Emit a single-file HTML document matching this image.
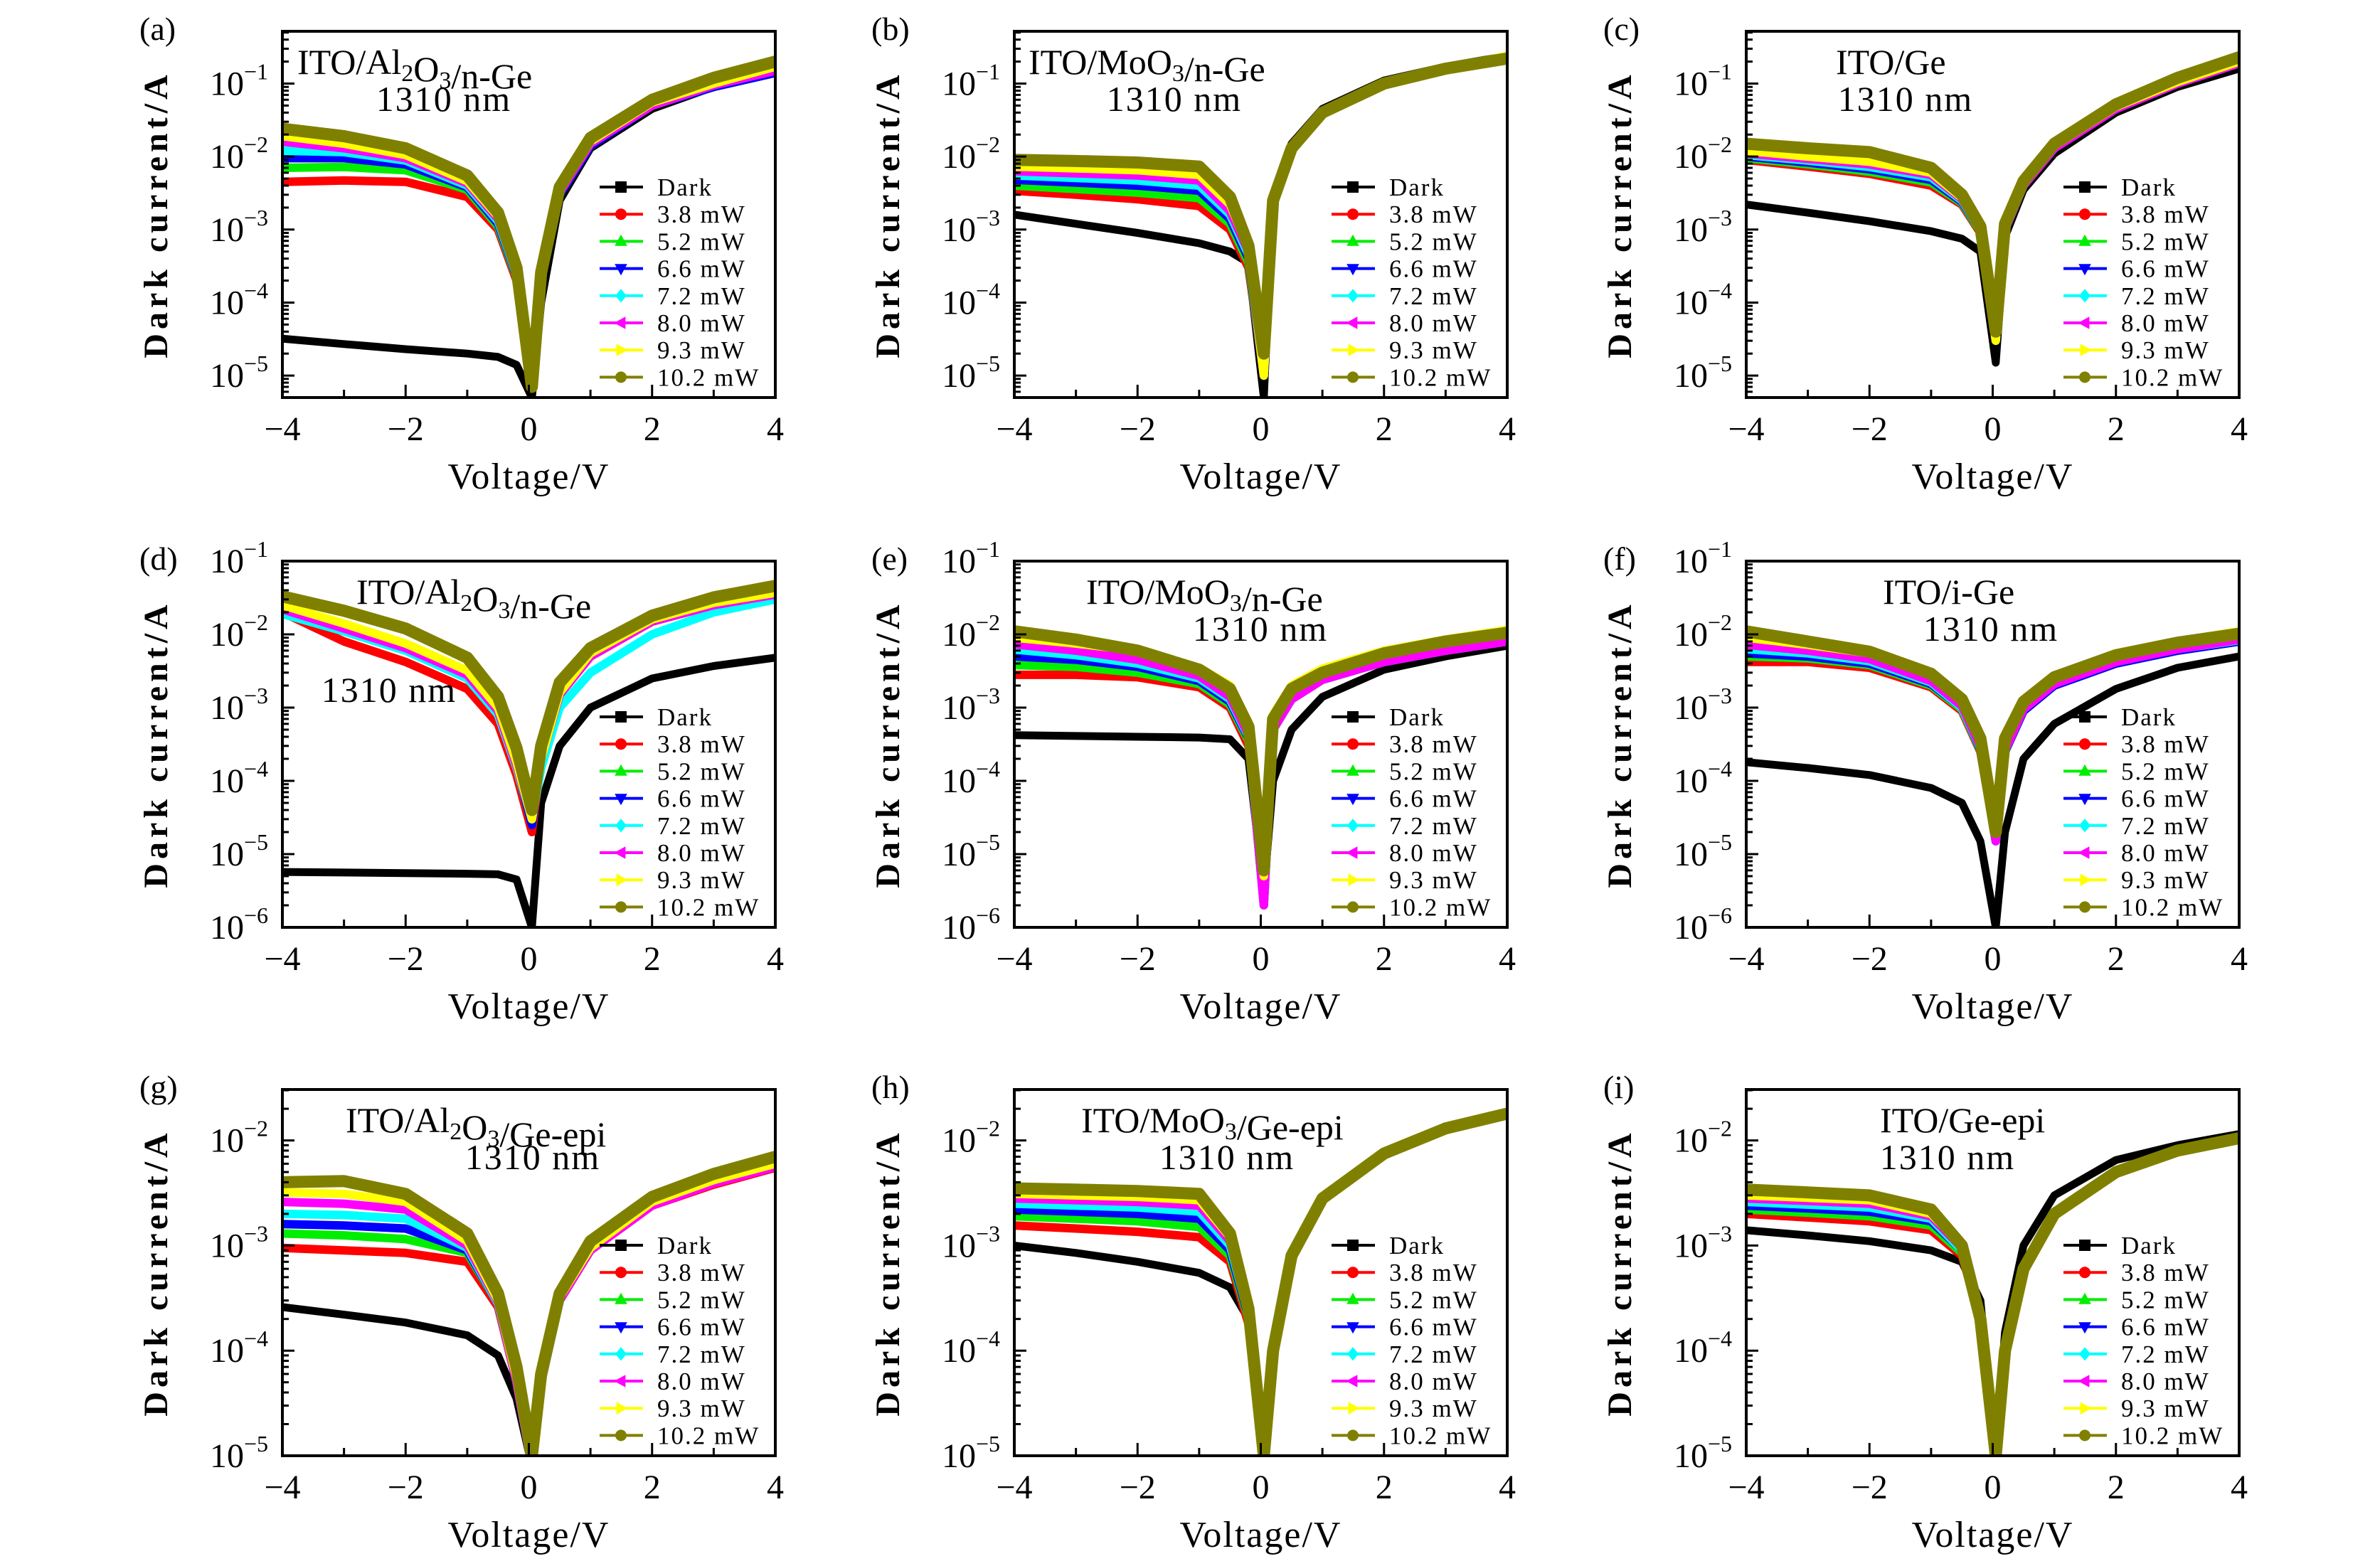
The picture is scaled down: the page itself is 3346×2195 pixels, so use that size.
<!DOCTYPE html>
<html><head><meta charset="utf-8"><style>
html,body{margin:0;padding:0;background:#fff;}
svg{display:block;font-family:"Liberation Serif",serif;}
</style></head><body>
<svg id="fig" width="3346" height="2195" viewBox="0 0 3346 2195" xmlns="http://www.w3.org/2000/svg"></svg>
<script>
const V = [-4,-3,-2,-1,-0.5,-0.2,0.05,0.2,0.5,1,2,3,4];
const seriesNames = ["Dark","3.8 mW","5.2 mW","6.6 mW","7.2 mW","8.0 mW","9.3 mW","10.2 mW"];
const panelLetters = ["a","b","c","d","e","f","g","h","i"];
const yMinVals = [5e-6,5e-6,5e-6,1e-6,1e-6,1e-6,1e-5,1e-5,1e-5];
const yMaxVals = [0.52,0.52,0.52,0.1,0.1,0.1,0.0305,0.0305,0.0305];
const xTickVals = [-4,-3,-2,-1,0,1,2,3,4];
const xTickLabels = ["−4","","−2","","0","","2","","4"];

const a0=[3.2e-5,2.7e-5,2.3e-5,2.0e-5,1.8e-5,1.4e-5,5e-6,1e-4,2.5e-3,1.3e-2,4.5e-2,9e-2,1.5e-1];
const a1=[4.5e-3,4.7e-3,4.5e-3,2.8e-3,1e-3,2e-4,7e-6,2e-4,3e-3,1.4e-2,5e-2,9e-2,1.4e-1];
const a2=[7e-3,7.2e-3,6.5e-3,3.5e-3,1.1e-3,2.2e-4,7e-6,2e-4,3e-3,1.4e-2,5e-2,9e-2,1.4e-1];
const a3=[9.5e-3,9.5e-3,7.8e-3,3.8e-3,1.2e-3,2.3e-4,7e-6,2e-4,3e-3,1.4e-2,5e-2,9e-2,1.4e-1];
const a4=[1.2e-2,1.15e-2,8.8e-3,4e-3,1.3e-3,2.4e-4,7e-6,2.2e-4,3.2e-3,1.5e-2,5e-2,9.5e-2,1.5e-1];
const a5=[1.6e-2,1.3e-2,9.5e-3,4.3e-3,1.4e-3,2.5e-4,7e-6,2.2e-4,3.2e-3,1.5e-2,5e-2,9.5e-2,1.5e-1];
const a6=[1.9e-2,1.5e-2,1.05e-2,4.6e-3,1.5e-3,2.7e-4,7e-6,2.4e-4,3.5e-3,1.6e-2,5.5e-2,1e-1,1.7e-1];
const a7=[2.4e-2,1.9e-2,1.3e-2,5.5e-3,1.7e-3,3e-4,7e-6,2.6e-4,3.8e-3,1.8e-2,6e-2,1.2e-1,2e-1];

const b0=[1.6e-3,1.2e-3,9e-4,6.5e-4,5e-4,3.5e-4,5e-6,3e-3,1.5e-2,4.5e-2,1.1e-1,1.7e-1,2.4e-1];
const b1=[3.4e-3,3e-3,2.6e-3,2.1e-3,1e-3,3e-4,1e-5,2.5e-3,1.3e-2,4e-2,1e-1,1.6e-1,2.3e-1];
const b2=[4e-3,3.6e-3,3.2e-3,2.7e-3,1.2e-3,3.5e-4,1e-5,2.5e-3,1.3e-2,4e-2,1e-1,1.6e-1,2.3e-1];
const b3=[4.8e-3,4.4e-3,4e-3,3.4e-3,1.4e-3,4e-4,1e-5,2.5e-3,1.3e-2,4e-2,1e-1,1.6e-1,2.3e-1];
const b4=[5.5e-3,5.1e-3,4.7e-3,4e-3,1.6e-3,4.5e-4,1e-5,2.5e-3,1.3e-2,4e-2,1e-1,1.6e-1,2.3e-1];
const b5=[6.3e-3,5.9e-3,5.5e-3,4.7e-3,1.8e-3,5e-4,1e-5,2.5e-3,1.3e-2,4e-2,1e-1,1.6e-1,2.3e-1];
const b6=[7.3e-3,6.9e-3,6.5e-3,5.6e-3,2.2e-3,5.5e-4,1e-5,2.5e-3,1.3e-2,4e-2,1e-1,1.6e-1,2.4e-1];
const b7=[9e-3,8.7e-3,8.3e-3,7.3e-3,2.8e-3,6e-4,2e-5,2.5e-3,1.3e-2,4e-2,1e-1,1.6e-1,2.2e-1];

const c0=[2.2e-3,1.7e-3,1.3e-3,9.5e-4,7.5e-4,5e-4,1.5e-5,8e-4,3.5e-3,1.1e-2,4e-2,9e-2,1.6e-1];
const c1=[9e-3,7.3e-3,5.8e-3,4e-3,2.2e-3,9e-4,3e-5,1e-3,4e-3,1.3e-2,4.5e-2,1e-1,1.9e-1];
const c2=[9.5e-3,7.8e-3,6.2e-3,4.4e-3,2.3e-3,9.5e-4,3e-5,1e-3,4e-3,1.3e-2,4.5e-2,1e-1,1.9e-1];
const c3=[1e-2,8.3e-3,6.7e-3,4.8e-3,2.4e-3,1e-3,3e-5,1e-3,4e-3,1.3e-2,4.5e-2,1e-1,1.9e-1];
const c4=[1.05e-2,8.8e-3,7.2e-3,5.2e-3,2.5e-3,1e-3,3e-5,1e-3,4e-3,1.3e-2,4.5e-2,1e-1,1.9e-1];
const c5=[1.1e-2,9.3e-3,7.8e-3,5.6e-3,2.6e-3,1e-3,3e-5,1e-3,4e-3,1.3e-2,4.5e-2,1e-1,1.9e-1];
const c6=[1.2e-2,1e-2,8.5e-3,6e-3,2.7e-3,1e-3,3e-5,1.1e-3,4.3e-3,1.4e-2,4.8e-2,1.05e-1,2e-1];
const c7=[1.5e-2,1.3e-2,1.15e-2,7e-3,3e-3,1.1e-3,4e-5,1.2e-3,4.6e-3,1.5e-2,5.2e-2,1.2e-1,2.3e-1];

const d0=[5.7e-6,5.6e-6,5.5e-6,5.4e-6,5.3e-6,4.5e-6,1e-6,5e-5,3e-4,1e-3,2.5e-3,3.7e-3,4.8e-3];
const d1=[2e-2,8e-3,4.2e-3,1.8e-3,6e-4,1.2e-4,2e-5,2e-4,1.5e-3,5e-3,1.5e-2,2.5e-2,3.5e-2];
const d2=[2.2e-2,1.1e-2,6e-3,2.6e-3,8e-4,1.5e-4,2.5e-5,2e-4,1.5e-3,5e-3,1.5e-2,2.5e-2,3.5e-2];
const d3=[2.2e-2,1.2e-2,6.5e-3,2.8e-3,9e-4,1.6e-4,2.5e-5,2e-4,1.5e-3,5e-3,1.5e-2,2.5e-2,3.5e-2];
const d4=[1.9e-2,1.1e-2,6e-3,2.5e-3,8e-4,1.5e-4,3e-5,1.5e-4,1e-3,3e-3,1e-2,2e-2,3e-2];
const d5=[2.2e-2,1.2e-2,6.5e-3,2.8e-3,9e-4,1.6e-4,3e-5,2e-4,1.5e-3,5e-3,1.5e-2,2.5e-2,3.5e-2];
const d6=[2.5e-2,1.4e-2,7.5e-3,3.2e-3,1e-3,1.8e-4,3e-5,2e-4,1.6e-3,5.5e-3,1.6e-2,2.7e-2,3.7e-2];
const d7=[3.3e-2,2.1e-2,1.2e-2,4.8e-3,1.4e-3,2.8e-4,4e-5,3e-4,2.2e-3,6.5e-3,1.8e-2,3.2e-2,4.6e-2];

const e0=[4.2e-4,4.1e-4,4e-4,3.9e-4,3.7e-4,2e-4,3e-6,1e-4,5e-4,1.4e-3,3.3e-3,5e-3,7e-3];
const e1=[2.8e-3,2.8e-3,2.6e-3,1.9e-3,1e-3,3e-4,1e-5,5e-4,1.3e-3,2.4e-3,4.2e-3,6e-3,8e-3];
const e2=[3.8e-3,3.6e-3,3e-3,2.1e-3,1.1e-3,3.5e-4,1e-5,5e-4,1.3e-3,2.4e-3,4.2e-3,6e-3,8e-3];
const e3=[5e-3,4.5e-3,3.6e-3,2.3e-3,1.2e-3,3.8e-4,2e-6,5e-4,1.3e-3,2.4e-3,4.2e-3,6e-3,8e-3];
const e4=[6.2e-3,5.2e-3,4e-3,2.5e-3,1.3e-3,4e-4,2e-6,5e-4,1.3e-3,2.4e-3,4.2e-3,6e-3,8e-3];
const e5=[7.3e-3,6e-3,4.5e-3,2.7e-3,1.4e-3,4.2e-4,2e-6,5e-4,1.3e-3,2.4e-3,4.2e-3,6e-3,8e-3];
const e6=[9e-3,7.5e-3,6e-3,3.5e-3,2e-3,6e-4,5e-6,8e-4,2e-3,3.4e-3,6e-3,8.5e-3,1.15e-2];
const e7=[1.1e-2,8.5e-3,6e-3,3.3e-3,1.8e-3,5.5e-4,6e-6,7e-4,1.8e-3,3e-3,5.5e-3,8e-3,1.05e-2];

const f0=[1.8e-4,1.5e-4,1.2e-4,8e-5,5e-5,1.5e-5,1e-6,2e-5,2e-4,6e-4,1.8e-3,3.5e-3,5e-3];
const f1=[4.2e-3,4.2e-3,3.5e-3,1.9e-3,9e-4,2.5e-4,1.5e-5,2.5e-4,9e-4,2e-3,4e-3,6e-3,8e-3];
const f2=[5e-3,4.7e-3,3.8e-3,2e-3,9.5e-4,2.6e-4,1.5e-5,2.5e-4,9e-4,2e-3,4e-3,6e-3,8e-3];
const f3=[5.5e-3,5e-3,4e-3,2.1e-3,1e-3,2.7e-4,1.5e-5,2.5e-4,9e-4,2e-3,4e-3,6e-3,8e-3];
const f4=[6.3e-3,5.5e-3,4.3e-3,2.2e-3,1e-3,2.8e-4,1.5e-5,2.6e-4,9.5e-4,2.1e-3,4.2e-3,6.3e-3,8.3e-3];
const f5=[7.2e-3,6e-3,4.6e-3,2.3e-3,1.05e-3,2.9e-4,1.5e-5,2.6e-4,9.5e-4,2.1e-3,4.2e-3,6.3e-3,8.5e-3];
const f6=[9e-3,7.2e-3,5.5e-3,2.9e-3,1.4e-3,4e-4,2e-5,4e-4,1.3e-3,2.7e-3,5.5e-3,8e-3,1.1e-2];
const f7=[1.1e-2,8e-3,5.8e-3,2.9e-3,1.3e-3,3.8e-4,2e-5,3.8e-4,1.2e-3,2.6e-3,5.2e-3,7.7e-3,1.02e-2];

const g0=[2.6e-4,2.2e-4,1.85e-4,1.4e-4,9e-5,3.5e-5,8e-6,5e-5,3e-4,9e-4,2.4e-3,3.8e-3,5.5e-3];
const g1=[9.5e-4,9e-4,8.5e-4,7e-4,2.6e-4,5e-5,8e-6,5e-5,3e-4,9e-4,2.4e-3,3.8e-3,5.5e-3];
const g2=[1.3e-3,1.25e-3,1.15e-3,8.5e-4,2.8e-4,5e-5,8e-6,5e-5,3e-4,9e-4,2.5e-3,4e-3,5.8e-3];
const g3=[1.6e-3,1.55e-3,1.45e-3,9e-4,2.8e-4,5e-5,8e-6,5e-5,3e-4,9e-4,2.5e-3,4e-3,5.8e-3];
const g4=[2e-3,1.95e-3,1.8e-3,9.5e-4,2.8e-4,5e-5,8e-6,5e-5,3e-4,9e-4,2.5e-3,4e-3,5.8e-3];
const g5=[2.6e-3,2.5e-3,2.2e-3,1e-3,2.9e-4,5e-5,8e-6,5e-5,3e-4,9e-4,2.4e-3,3.9e-3,5.6e-3];
const g6=[3.2e-3,3.1e-3,2.6e-3,1.1e-3,3e-4,5.5e-5,8e-6,5.5e-5,3.2e-4,9.5e-4,2.6e-3,4.2e-3,6e-3];
const g7=[4e-3,4.1e-3,3.1e-3,1.3e-3,3.5e-4,7e-5,1e-5,6e-5,3.5e-4,1.1e-3,2.9e-3,4.8e-3,7e-3];

const h0=[1e-3,8.5e-4,7e-4,5.5e-4,4e-4,2e-4,8e-6,1e-4,8e-4,2.8e-3,7.5e-3,1.3e-2,1.8e-2];
const h1=[1.55e-3,1.45e-3,1.35e-3,1.2e-3,7e-4,1.8e-4,1e-5,1e-4,8e-4,2.8e-3,7.5e-3,1.3e-2,1.8e-2];
const h2=[1.9e-3,1.8e-3,1.7e-3,1.5e-3,8e-4,2e-4,1e-5,1e-4,8e-4,2.8e-3,7.5e-3,1.3e-2,1.8e-2];
const h3=[2.2e-3,2.1e-3,2e-3,1.8e-3,9e-4,2.1e-4,1e-5,1e-4,8e-4,2.8e-3,7.5e-3,1.3e-2,1.8e-2];
const h4=[2.5e-3,2.4e-3,2.3e-3,2.1e-3,1e-3,2.2e-4,1e-5,1e-4,8e-4,2.8e-3,7.5e-3,1.3e-2,1.8e-2];
const h5=[2.8e-3,2.7e-3,2.6e-3,2.4e-3,1.1e-3,2.3e-4,1e-5,1e-4,8e-4,2.8e-3,7.5e-3,1.3e-2,1.8e-2];
const h6=[3.1e-3,3e-3,2.9e-3,2.7e-3,1.2e-3,2.4e-4,1e-5,1e-4,8e-4,2.8e-3,7.5e-3,1.3e-2,1.8e-2];
const h7=[3.5e-3,3.4e-3,3.3e-3,3.1e-3,1.3e-3,2.5e-4,1e-5,1e-4,8e-4,2.8e-3,7.5e-3,1.3e-2,1.8e-2];

const i0=[1.4e-3,1.25e-3,1.1e-3,9e-4,7e-4,3e-4,1e-5,1.5e-4,1e-3,3e-3,6.5e-3,9e-3,1.15e-2];
const i1=[2e-3,1.85e-3,1.7e-3,1.4e-3,8e-4,2e-4,1e-5,1e-4,6e-4,2e-3,5e-3,8e-3,1.05e-2];
const i2=[2.2e-3,2.05e-3,1.9e-3,1.55e-3,8.5e-4,2e-4,1e-5,1e-4,6e-4,2e-3,5e-3,8e-3,1.05e-2];
const i3=[2.4e-3,2.25e-3,2.1e-3,1.7e-3,9e-4,2e-4,1e-5,1e-4,6e-4,2e-3,5e-3,8e-3,1.05e-2];
const i4=[2.6e-3,2.45e-3,2.3e-3,1.8e-3,9e-4,2e-4,1e-5,1e-4,6e-4,2e-3,5e-3,8e-3,1.05e-2];
const i5=[2.8e-3,2.65e-3,2.5e-3,1.9e-3,9.5e-4,2e-4,1e-5,1e-4,6e-4,2e-3,5e-3,8e-3,1.05e-2];
const i6=[3e-3,2.85e-3,2.7e-3,2e-3,1e-3,2e-4,1e-5,1e-4,6e-4,2e-3,5e-3,8e-3,1.05e-2];
const i7=[3.4e-3,3.2e-3,3e-3,2.2e-3,1e-3,2e-4,1e-5,1e-4,6e-4,2e-3,5e-3,8e-3,1.05e-2];

const panelSeries = [
 [a0,a1,a2,a3,a4,a5,a6,a7],[b0,b1,b2,b3,b4,b5,b6,b7],[c0,c1,c2,c3,c4,c5,c6,c7],
 [d0,d1,d2,d3,d4,d5,d6,d7],[e0,e1,e2,e3,e4,e5,e6,e7],[f0,f1,f2,f3,f4,f5,f6,f7],
 [g0,g1,g2,g3,g4,g5,g6,g7],[h0,h1,h2,h3,h4,h5,h6,h7],[i0,i1,i2,i3,i4,i5,i6,i7]];

const COLORS=["#000000","#ff0000","#00ee00","#0000ff","#00ffff","#ff00ff","#ffff00","#808000"];
const SHAPES=["square","circle","up","down","diamond","left","right","circle"];
const LEFTS=[397,1426,2455], TOPS=[44,789,1532], W=693, H=515;
const ANN=[
 [[["ITO/Al",0],["2",1],["O",0],["3",1],["/n-Ge",0]],21,227,112],
 [[["ITO/MoO",0],["3",1],["/n-Ge",0]],20,225,112],
 [[["ITO/Ge",0]],126,224,112],
 [[["ITO/Al",0],["2",1],["O",0],["3",1],["/n-Ge",0]],104,150,198],
 [[["ITO/MoO",0],["3",1],["/n-Ge",0]],101,346,112],
 [[["ITO/i-Ge",0]],192,344,112],
 [[["ITO/Al",0],["2",1],["O",0],["3",1],["/Ge-epi",0]],89,352,112],
 [[["ITO/MoO",0],["3",1],["/Ge-epi",0]],94,299,112],
 [[["ITO/Ge-epi",0]],188,283,112]];

const NS="http://www.w3.org/2000/svg";
const svg=document.getElementById('fig');
function mk(tag,attrs,parent){const e=document.createElementNS(NS,tag);for(const k in attrs)e.setAttribute(k,attrs[k]);(parent||svg).appendChild(e);return e;}

function markerPath(shape,x,y,s){
  if(shape==="square")return `M${x-s},${y-s}h${2*s}v${2*s}h${-2*s}Z`;
  if(shape==="circle")return `M${x-s},${y}a${s},${s} 0 1,0 ${2*s},0a${s},${s} 0 1,0 ${-2*s},0Z`;
  if(shape==="up")return `M${x},${y-s*1.2}L${x+s*1.1},${y+s*0.8}L${x-s*1.1},${y+s*0.8}Z`;
  if(shape==="down")return `M${x},${y+s*1.2}L${x+s*1.1},${y-s*0.8}L${x-s*1.1},${y-s*0.8}Z`;
  if(shape==="diamond")return `M${x},${y-s*1.2}L${x+s},${y}L${x},${y+s*1.2}L${x-s},${y}Z`;
  if(shape==="left")return `M${x-s*1.2},${y}L${x+s*0.8},${y-s*1.1}L${x+s*0.8},${y+s*1.1}Z`;
  return `M${x+s*1.2},${y}L${x-s*0.8},${y-s*1.1}L${x-s*0.8},${y+s*1.1}Z`;
}

for(let p=0;p<9;p++){
  const L=LEFTS[p%3], T=TOPS[Math.floor(p/3)], B=T+H, R=L+W;
  const lmin=Math.log10(yMinVals[p]), lmax=Math.log10(yMaxVals[p]);
  const xs=v=>L+(v+4)/8*W;
  const ys=i=>B-(Math.log10(Math.max(i,1e-9))-lmin)/(lmax-lmin)*H;
  const g=mk('g',{});
  
  
  const cp=mk('clipPath',{id:'clip'+p},g);
  mk('rect',{x:L,y:T,width:W,height:H},cp);
  const sg=mk('g',{'clip-path':`url(#clip${p})`},g);
  
  
  const ser=panelSeries[p];
  for(let s=0;s<8;s++){
    const pts=V.map((v,k)=>xs(v).toFixed(1)+','+ys(ser[s][k]).toFixed(1)).join(' ');
    const pl=mk('polyline',{points:pts,fill:'none',stroke:COLORS[s],'stroke-width':s===7?17:(s===0?11:12),'stroke-linejoin':'round','stroke-linecap':'round'},sg);
    
    
  }
  const fr=mk('rect',{x:L,y:T,width:W,height:H,fill:'none',stroke:'#000','stroke-width':4},g);
  
  
  xTickVals.forEach((v,k)=>{
    const x=xs(v), len=(v%2===0)?18:11;
    if(v>-4&&v<4){const t=mk('line',{x1:x,y1:B,x2:x,y2:B-len,stroke:'#000','stroke-width':3},g);
      
      }
    if(xTickLabels[k]){const tx=mk('text',{x:x,y:B+60,'font-size':48,'text-anchor':'middle'},g);tx.textContent=xTickLabels[k];
      
      }
  });
  for(let e=Math.floor(lmin);e<=Math.ceil(lmax);e++){
    for(let m=1;m<10;m++){
      const lv=e+Math.log10(m); if(lv<lmin-1e-9||lv>lmax+1e-9)continue;
      const y=ys(Math.pow(10,lv));
      const t=mk('line',{x1:L,y1:y,x2:L+(m===1?17:9),y2:y,stroke:'#000','stroke-width':3},g);
      
      
      if(m===1){
        const tx=mk('text',{x:L-20,y:y+16,'font-size':48,'text-anchor':'end'},g);
        
        
        const t1=mk('tspan',{},tx);t1.textContent='10';
        const t2=mk('tspan',{dy:-22,'font-size':32},tx);t2.textContent='−'+Math.abs(e);
      }
    }
  }
  const xt=mk('text',{x:L+W/2,y:B+128,'font-size':52,'text-anchor':'middle','letter-spacing':2},g);xt.textContent='Voltage/V';
  
  
  const yt=mk('text',{x:0,y:0,'font-size':48,'font-weight':'bold','text-anchor':'middle','letter-spacing':6,transform:`translate(${L-162},${T+H/2}) rotate(-90)`},g);yt.textContent='Dark current/A';
  
  
  const pl=mk('text',{x:L-201,y:T+12,'font-size':46},g);pl.textContent='('+panelLetters[p]+')';
  
  
  const an=ANN[p];
  const a1=mk('text',{x:L+an[1],y:T+60,'font-size':50},g);
  
  
  an[0].forEach(([txt,sub])=>{const ts=mk('tspan',sub?{'font-size':34,dy:10}:{},a1);ts.textContent=txt;
    if(sub){const z=mk('tspan',{'font-size':34,dy:-10},a1);z.textContent='';}
  });
  const a2=mk('text',{x:L+an[2],y:T+an[3],'font-size':50,'text-anchor':'middle','letter-spacing':2},g);a2.textContent='1310 nm';
  
  
  const lg=mk('g',{},g);
  
  
  for(let s=0;s<8;s++){
    const y=T+219+s*38.2;
    const it=mk('g',{},lg);
    
    
    mk('line',{x1:L+446,y1:y,x2:L+507,y2:y,stroke:COLORS[s],'stroke-width':4},it);
    mk('path',{d:markerPath(SHAPES[s],L+476,y,8),fill:COLORS[s]},it);
    const tx=mk('text',{x:L+527,y:y+12,'font-size':35,'letter-spacing':2},it);tx.textContent=seriesNames[s];
  }
}
</script>
</body></html>
